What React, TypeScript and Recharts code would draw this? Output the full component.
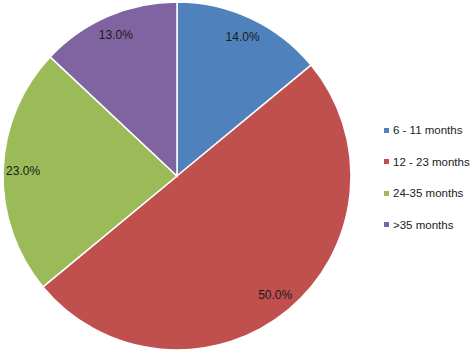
import { PieChart, Pie, Cell, Legend } from "recharts";

const categories = ["6 - 11 months", "12 - 23 months", "24-35 months", ">35 months"];
const shares = [14, 50, 23, 13];
const colors = ["#4F81BD", "#C0504D", "#9BBB59", "#8064A2"];

const data = categories.map((name, i) => ({ name, value: shares[i] }));

const RAD = Math.PI / 180;
const FONT = "'Liberation Sans', Arial, Helvetica, sans-serif";

const renderLabel = (props: any) => {
  const { cx, cy, midAngle, outerRadius, percent } = props;
  const r = outerRadius - 20;
  const x = cx + r * Math.cos(-midAngle * RAD);
  const y = cy + r * Math.sin(-midAngle * RAD);
  return (
    <text
      x={x}
      y={y}
      fill="#1a1a1a"
      fontSize={12}
      fontFamily={FONT}
      textAnchor="middle"
      dominantBaseline="central"
    >
      {`${(percent * 100).toFixed(1)}%`}
    </text>
  );
};

const renderLegend = () => (
  <div style={{ fontFamily: FONT, fontSize: 11.5, color: "#222", whiteSpace: "nowrap" }}>
    {categories.map((name, i) => (
      <div
        key={name}
        style={{ display: "flex", alignItems: "center", height: 31.5 }}
      >
        <span
          style={{
            display: "inline-block",
            width: 5,
            height: 5,
            background: colors[i],
            marginRight: 4,
          }}
        />
        <span>{name}</span>
      </div>
    ))}
  </div>
);

export default function App() {
  return (
    <div style={{ position: "absolute", left: 0, top: 0, background: "#fff" }}>
      <PieChart
        width={471}
        height={356}
        margin={{ top: 0, right: 0, bottom: 0, left: 0 }}
      >
        <Pie
          data={data}
          dataKey="value"
          nameKey="name"
          cx={177}
          cy={176}
          outerRadius={174}
          startAngle={90}
          endAngle={-270}
          stroke="#fff"
          strokeWidth={1.5}
          label={renderLabel}
          labelLine={false}
          isAnimationActive={false}
        >
          {data.map((d, i) => (
            <Cell key={d.name} fill={colors[i]} />
          ))}
        </Pie>
        <Legend
          content={renderLegend}
          wrapperStyle={{ left: 384, top: 114.5, width: 87 }}
        />
      </PieChart>
    </div>
  );
}
